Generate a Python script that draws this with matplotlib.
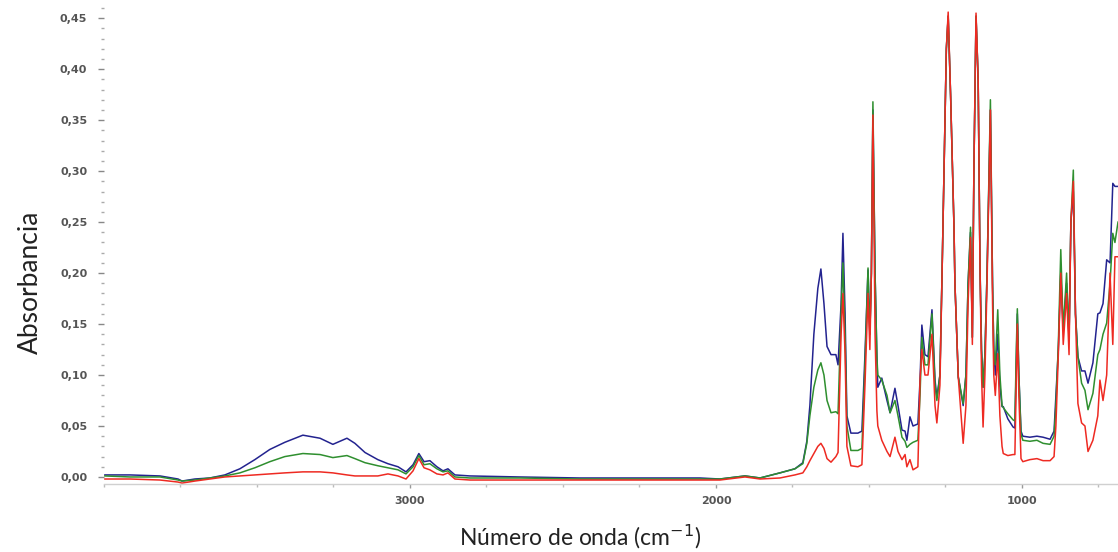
import matplotlib
matplotlib.use("Agg")
import matplotlib.pyplot as plt
from matplotlib.ticker import FixedLocator, MultipleLocator, FuncFormatter

# Wavenumber grid (cm-1)
wavenumber = [3997, 3915, 3817, 3758, 3745, 3703, 3654, 3605, 3556, 3507, 3458, 3409,
              3350, 3294, 3252, 3206, 3180, 3147, 3105, 3072, 3039, 3013, 2990, 2971,
              2954, 2935, 2912, 2892, 2876, 2853, 2804, 2641, 2444, 2248, 2052, 1987,
              1905, 1856, 1791, 1742, 1716, 1703, 1693, 1680, 1667, 1657, 1647, 1637,
              1624, 1608, 1601, 1591, 1585, 1578, 1572, 1559, 1536, 1523, 1513, 1503,
              1497, 1492, 1487, 1480, 1474, 1471, 1458, 1441, 1431, 1415, 1405, 1392,
              1382, 1376, 1366, 1356, 1340, 1333, 1327, 1317, 1307, 1294, 1284, 1278,
              1268, 1261, 1253, 1247, 1241, 1233, 1226, 1222, 1219, 1213, 1208, 1192,
              1183, 1176, 1168, 1162, 1157, 1150, 1143, 1137, 1132, 1127, 1121, 1114,
              1103, 1096, 1092, 1087, 1079, 1072, 1065, 1061, 1046, 1029, 1023, 1018,
              1015, 1010, 1003, 997, 974, 951, 931, 908, 895, 889, 881, 873,
              865, 854, 846, 840, 832, 825, 817, 805, 794, 784, 768, 752,
              745, 735, 723, 712, 703, 696, 686]

blue = [0.002, 0.002, 0.001, -0.002, -0.004, -0.002, -0.001, 0.002, 0.008, 0.017, 0.027, 0.034,
        0.041, 0.038, 0.032, 0.038, 0.033, 0.024, 0.017, 0.013, 0.010, 0.005, 0.012, 0.023,
        0.015, 0.016, 0.010, 0.006, 0.008, 0.002, 0.001, 0.000, -0.001, -0.001, -0.001, -0.002,
        0.001, -0.001, 0.004, 0.008, 0.014, 0.035, 0.070, 0.140, 0.185, 0.204, 0.170, 0.128,
        0.120, 0.120, 0.110, 0.170, 0.239, 0.160, 0.060, 0.043, 0.043, 0.045, 0.120, 0.203,
        0.140, 0.200, 0.360, 0.200, 0.118, 0.088, 0.097, 0.075, 0.063, 0.087, 0.070, 0.046,
        0.045, 0.036, 0.059, 0.050, 0.052, 0.095, 0.149, 0.120, 0.118, 0.164, 0.095, 0.078,
        0.100, 0.200, 0.324, 0.420, 0.452, 0.373, 0.290, 0.245, 0.190, 0.141, 0.098, 0.070,
        0.100, 0.190, 0.240, 0.137, 0.300, 0.452, 0.389, 0.206, 0.125, 0.088, 0.120, 0.200,
        0.360, 0.190, 0.125, 0.100, 0.140, 0.090, 0.069, 0.069, 0.057, 0.049, 0.048, 0.120,
        0.160, 0.100, 0.045, 0.040, 0.039, 0.040, 0.039, 0.037, 0.045, 0.080, 0.125, 0.200,
        0.144, 0.190, 0.136, 0.250, 0.280, 0.160, 0.118, 0.104, 0.104, 0.092, 0.112, 0.160,
        0.161, 0.170, 0.213, 0.210, 0.288, 0.285, 0.285]

green = [0.001, 0.000, 0.000, -0.003, -0.004, -0.003, -0.001, 0.001, 0.004, 0.009, 0.015, 0.020,
         0.023, 0.022, 0.019, 0.021, 0.018, 0.014, 0.011, 0.009, 0.007, 0.003, 0.010, 0.021,
         0.012, 0.013, 0.008, 0.005, 0.006, 0.000, -0.001, -0.001, -0.002, -0.002, -0.002, -0.002,
         0.001, -0.001, 0.004, 0.008, 0.013, 0.033, 0.060, 0.088, 0.105, 0.112, 0.100, 0.075,
         0.063, 0.064, 0.062, 0.160, 0.210, 0.140, 0.050, 0.026, 0.026, 0.028, 0.110, 0.205,
         0.140, 0.200, 0.368, 0.200, 0.118, 0.100, 0.095, 0.080, 0.063, 0.075, 0.060, 0.039,
         0.035, 0.029, 0.032, 0.034, 0.036, 0.080, 0.137, 0.110, 0.110, 0.160, 0.090, 0.075,
         0.100, 0.200, 0.324, 0.420, 0.452, 0.373, 0.290, 0.245, 0.190, 0.141, 0.098, 0.072,
         0.100, 0.190, 0.245, 0.137, 0.300, 0.452, 0.389, 0.206, 0.125, 0.088, 0.120, 0.200,
         0.370, 0.190, 0.125, 0.110, 0.164, 0.100, 0.070, 0.068, 0.062, 0.056, 0.055, 0.130,
         0.165, 0.100, 0.042, 0.036, 0.035, 0.036, 0.033, 0.032, 0.040, 0.070, 0.130, 0.223,
         0.144, 0.200, 0.136, 0.250, 0.301, 0.160, 0.118, 0.092, 0.085, 0.066, 0.082, 0.120,
         0.125, 0.140, 0.151, 0.190, 0.239, 0.230, 0.250]

red = [-0.002, -0.002, -0.003, -0.005, -0.006, -0.004, -0.002, 0.000, 0.001, 0.002, 0.003, 0.004,
       0.005, 0.005, 0.004, 0.002, 0.001, 0.001, 0.001, 0.003, 0.001, -0.002, 0.006, 0.018,
       0.009, 0.007, 0.003, 0.002, 0.004, -0.002, -0.003, -0.003, -0.003, -0.003, -0.003, -0.003,
       0.000, -0.002, -0.001, 0.002, 0.004, 0.010, 0.016, 0.023, 0.030, 0.033, 0.028, 0.018,
       0.0145, 0.020, 0.024, 0.140, 0.180, 0.120, 0.030, 0.011, 0.010, 0.012, 0.090, 0.180,
       0.125, 0.200, 0.355, 0.140, 0.065, 0.050, 0.036, 0.025, 0.020, 0.039, 0.025, 0.017,
       0.022, 0.010, 0.017, 0.007, 0.010, 0.095, 0.125, 0.100, 0.100, 0.140, 0.070, 0.053,
       0.090, 0.200, 0.324, 0.420, 0.456, 0.373, 0.290, 0.245, 0.190, 0.141, 0.098, 0.033,
       0.070, 0.170, 0.235, 0.130, 0.300, 0.455, 0.389, 0.206, 0.100, 0.049, 0.100, 0.190,
       0.360, 0.170, 0.100, 0.080, 0.121, 0.060, 0.030, 0.023, 0.021, 0.022, 0.022, 0.100,
       0.150, 0.080, 0.018, 0.015, 0.017, 0.018, 0.016, 0.016, 0.020, 0.050, 0.120, 0.200,
       0.130, 0.180, 0.120, 0.250, 0.290, 0.160, 0.072, 0.053, 0.050, 0.025, 0.036, 0.060,
       0.095, 0.075, 0.100, 0.200, 0.130, 0.216, 0.216]

xticks_major = [3000, 2000, 1000]
x_label = "Número de onda (cm$^{-1}$)"
y_label = "Absorbancia"

fig = plt.figure(figsize=(11.18, 5.52), dpi=100)
ax = fig.add_axes([104 / 1118, 1 - 484 / 552, 1 - 104 / 1118, (484 - 8) / 552])

ax.plot(wavenumber, blue, color="#23238f", lw=1.1)
ax.plot(wavenumber, green, color="#2f8f2f", lw=1.1)
ax.plot(wavenumber, red, color="#ee2a22", lw=1.1)

ax.set_xlim(4000, 686)
ax.set_ylim(-0.0069, 0.46)

for s in ["top", "right", "left"]:
    ax.spines[s].set_visible(False)
ax.spines["bottom"].set_color("#d0d0d0")
ax.spines["bottom"].set_linewidth(1.0)

ax.xaxis.set_major_locator(FixedLocator(xticks_major))
ax.xaxis.set_minor_locator(MultipleLocator(250))
ax.yaxis.set_major_locator(MultipleLocator(0.05))
ax.yaxis.set_minor_locator(MultipleLocator(0.01))
ax.yaxis.set_major_formatter(FuncFormatter(lambda v, p: f"{v:.2f}".replace(".", ",").replace("-0,00", "0,00")))

ax.tick_params(axis="x", which="major", length=3, width=1, color="#999999", pad=6,
               labelsize=8, labelcolor="#555555")
ax.tick_params(axis="x", which="minor", length=2, width=1, color="#bbbbbb")
ax.tick_params(axis="y", which="major", length=4, width=1, color="#888888", pad=8,
               labelsize=8, labelcolor="#555555")
ax.tick_params(axis="y", which="minor", length=2, width=1, color="#aaaaaa")
for lab in ax.get_xticklabels() + ax.get_yticklabels():
    lab.set_fontweight("bold")

fig.text(580 / 1118, 1 - 537 / 552, x_label, ha="center", va="center",
         fontsize=16.5, family="Lato", color="#222222")
fig.text(30 / 1118, 1 - 282 / 552, y_label, ha="center", va="center", rotation=90,
         fontsize=19, family="Lato", color="#222222")

fig.savefig("out.png", dpi=100)
